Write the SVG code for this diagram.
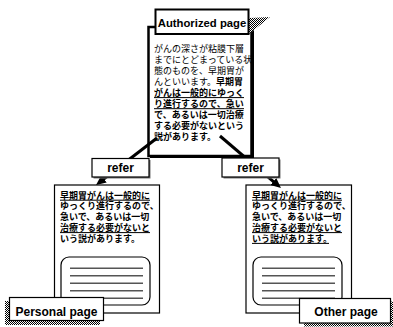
<svg xmlns="http://www.w3.org/2000/svg" width="393" height="327" viewBox="0 0 393 327">
<style>
.jp{font-family:"Noto Sans CJK JP","Noto Sans CJK SC",sans-serif;font-size:9px;fill:#000}
.b{font-weight:bold}
.lbl{font-family:"Liberation Sans",Arial,sans-serif;font-weight:bold;font-size:12px;text-anchor:middle;fill:#000}
.ul{stroke:#000;stroke-width:1}
.doc{fill:#fff;stroke:#000;stroke-width:1.2}
.area{fill:#fff;stroke:#000;stroke-width:1.2}
.rule{stroke:#555;stroke-width:1.4}
.box{fill:#fff;stroke:#000;stroke-width:1.2}
.conn{stroke:#000;stroke-width:3;fill:none}
</style>
<defs>
<pattern id="dither" width="2" height="2" patternUnits="userSpaceOnUse">
<rect width="2" height="2" fill="#fff"/><rect width="1" height="1" fill="#000"/><rect x="1" y="1" width="1" height="1" fill="#000"/>
</pattern>
<marker id="arr" markerUnits="userSpaceOnUse" markerWidth="12" markerHeight="10" refX="4" refY="4.5" orient="auto">
<path d="M0,0 L10,4.5 L0,9 z" fill="#000"/>
</marker>
</defs>

<g id="authorized">
<rect x="150" y="28.5" width="104" height="129.5" fill="#000"/>
<rect x="148.5" y="27" width="103" height="129" fill="#fff" stroke="#000" stroke-width="2.5"/>
<polygon points="249,18 270,17 249,34" fill="url(#dither)"/>
<rect x="155.5" y="9.5" width="93" height="24.5" fill="#fff" stroke="#000" stroke-width="2"/>
<text class="lbl" x="202" y="26.5" style="font-size:11.3px">Authorized page</text>
<text class="jp"><tspan x="154" y="51.5">がんの深さが粘膜下層</tspan><tspan x="154" y="62.6">までにとどまっている状</tspan><tspan x="154" y="73.7">態のものを、早期胃が</tspan><tspan x="154" y="84.8">んといいます。</tspan><tspan class="b">早期胃</tspan><tspan class="b" x="154" y="95.9">がんは一般的にゆっく</tspan><tspan class="b" x="154" y="107">り進行するので、急い</tspan><tspan class="b" x="154" y="118.1">で、あるいは一切治療</tspan><tspan class="b" x="154" y="129.2">する必要がないという</tspan><tspan class="b" x="154" y="140.3">説があります。</tspan></text>
<line class="ul" x1="154" y1="97.6" x2="244" y2="97.6"/>
<line class="ul" x1="154" y1="108.7" x2="244" y2="108.7"/>
</g>

<g id="personal-doc">
<rect class="doc" x="54.5" y="185" width="105" height="128"/>
<text class="jp b"><tspan x="60" y="198.5">早期胃がんは一般的に</tspan><tspan x="60" y="209.3">ゆっくり進行するので、</tspan><tspan x="60" y="220.1">急いで、あるいは一切</tspan><tspan x="60" y="230.9">治療する必要がないと</tspan><tspan x="60" y="241.7">いう説があります。</tspan></text>
<line class="ul" x1="60" y1="200.2" x2="150" y2="200.2"/>
<line class="ul" x1="60" y1="232.6" x2="150" y2="232.6"/>
<rect class="area" x="61" y="257" width="89" height="48" rx="8"/>
<line class="rule" x1="70" y1="268.3" x2="143" y2="268.3"/>
<line class="rule" x1="70" y1="275.8" x2="143" y2="275.8"/>
<line class="rule" x1="70" y1="283.3" x2="143" y2="283.3"/>
<line class="rule" x1="70" y1="290.8" x2="143" y2="290.8"/>
<line class="rule" x1="70" y1="298.3" x2="143" y2="298.3"/>
</g>

<g id="other-doc">
<rect class="doc" x="246" y="185" width="105.5" height="128"/>
<text class="jp b"><tspan x="252" y="198.5">早期胃がんは一般的に</tspan><tspan x="252" y="209.3">ゆっくり進行するので、</tspan><tspan x="252" y="220.1">急いで、あるいは一切</tspan><tspan x="252" y="230.9">治療する必要がないと</tspan><tspan x="252" y="241.7">いう説があります。</tspan></text>
<line class="ul" x1="252" y1="200.2" x2="342" y2="200.2"/>
<line class="ul" x1="252" y1="232.6" x2="342" y2="232.6"/>
<line class="ul" x1="252" y1="243.4" x2="329" y2="243.4"/>
<rect class="area" x="253" y="257" width="89" height="48" rx="8"/>
<line class="rule" x1="262" y1="268.3" x2="335" y2="268.3"/>
<line class="rule" x1="262" y1="275.8" x2="335" y2="275.8"/>
<line class="rule" x1="262" y1="283.3" x2="335" y2="283.3"/>
<line class="rule" x1="262" y1="290.8" x2="335" y2="290.8"/>
<line class="rule" x1="262" y1="298.3" x2="335" y2="298.3"/>
</g>

<g id="connectors">
<line class="conn" x1="157" y1="138" x2="100.8" y2="181.3" marker-end="url(#arr)"/>
<line class="conn" x1="220" y1="136" x2="276.4" y2="184.1" marker-end="url(#arr)"/>
</g>

<g id="refer-left">
<rect x="93.5" y="160" width="57" height="18.5" fill="#777"/>
<rect class="box" x="92" y="158.5" width="57" height="18.5"/>
<text class="lbl" x="120.5" y="172.3">refer</text>
</g>
<g id="refer-right">
<rect x="223.5" y="159.5" width="57" height="19" fill="#777"/>
<rect class="box" x="222" y="158" width="57" height="19"/>
<text class="lbl" x="250.5" y="172">refer</text>
</g>

<g id="personal-page">
<rect x="5" y="301" width="95" height="24" fill="url(#dither)"/>
<rect class="box" x="9.5" y="297.5" width="94" height="23"/>
<text class="lbl" x="56.5" y="315.5">Personal page</text>
</g>
<g id="other-page">
<rect x="304" y="301.5" width="92" height="25" fill="url(#dither)"/>
<rect class="box" x="299.5" y="298.5" width="91" height="24.5"/>
<text class="lbl" x="346" y="316">Other page</text>
</g>
</svg>
